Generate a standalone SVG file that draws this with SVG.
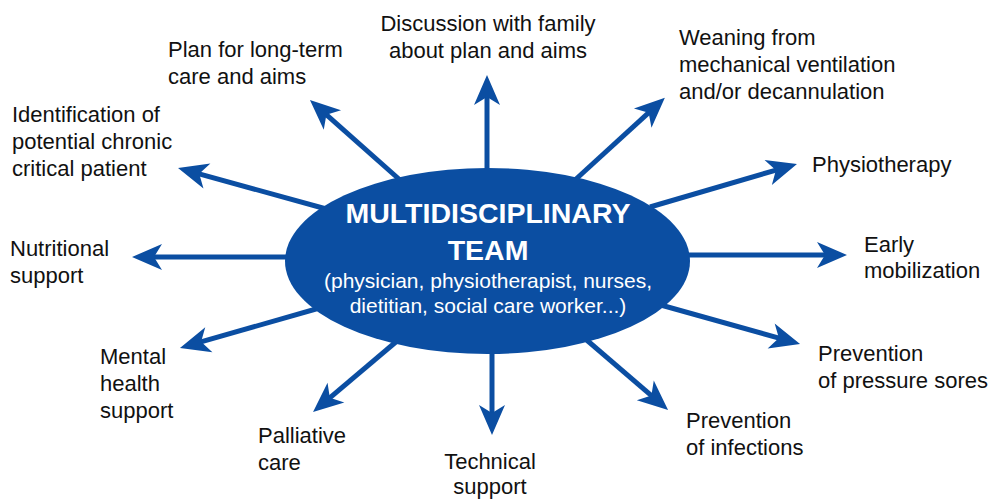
<svg xmlns="http://www.w3.org/2000/svg" width="993" height="500" viewBox="0 0 993 500">
<style>
.lbl{font-family:"Liberation Sans",Arial,sans-serif;font-size:22px;fill:#111;}
.c{text-anchor:middle;}
.con line{stroke:#0b4ea2;stroke-width:5;fill:none;marker-end:url(#ah);}
.title{font-family:"Liberation Sans",Arial,sans-serif;font-weight:bold;font-size:28.5px;fill:#fff;text-anchor:middle;}
.sub{font-family:"Liberation Sans",Arial,sans-serif;font-size:21px;fill:#fff;text-anchor:middle;}
</style>
<defs>
<marker id="ah" markerUnits="userSpaceOnUse" markerWidth="34" markerHeight="30" viewBox="0 0 32 30" refX="10" refY="15" orient="auto">
<path d="M0,2 L30,15 L0,28 L8,15 Z" fill="#0b4ea2"/>
</marker>
</defs>
<rect width="993" height="500" fill="#fff"/>
<g id="connectors" class="con">
<line x1="487" y1="190" x2="487" y2="95"/>
<line x1="400" y1="180" x2="324.9" y2="113.3"/>
<line x1="575" y1="180" x2="650.1" y2="111.3"/>
<line x1="330" y1="210" x2="197.3" y2="173.3"/>
<line x1="300" y1="257" x2="152" y2="257"/>
<line x1="650" y1="207" x2="777.8" y2="169.6"/>
<line x1="670" y1="255" x2="827" y2="255"/>
<line x1="650" y1="302" x2="780.8" y2="338.6"/>
<line x1="575" y1="330" x2="652.9" y2="396.9"/>
<line x1="492" y1="340" x2="492" y2="415"/>
<line x1="410" y1="330" x2="328.3" y2="399.1"/>
<line x1="330" y1="305" x2="199.2" y2="342.4"/>
</g>
<g id="center">
<ellipse cx="487.5" cy="261" rx="202.5" ry="93" fill="#0b4ea2"/>
<text class="title" x="488" y="223">MULTIDISCIPLINARY</text>
<text class="title" x="488" y="260">TEAM</text>
<text class="sub" x="488" y="288">(physician, physiotherapist, nurses,</text>
<text class="sub" x="488" y="313">dietitian, social care worker...)</text>
</g>
<g id="n-discussion"><text class="lbl c" x="488" y="31">Discussion with family</text><text class="lbl c" x="488" y="58">about plan and aims</text></g>
<g id="n-plan"><text class="lbl" x="168" y="57">Plan for long-term</text><text class="lbl" x="168" y="84">care and aims</text></g>
<g id="n-weaning"><text class="lbl" x="679" y="45">Weaning from</text><text class="lbl" x="679" y="72">mechanical ventilation</text><text class="lbl" x="679" y="99">and/or decannulation</text></g>
<g id="n-identification"><text class="lbl" x="12" y="122">Identification of</text><text class="lbl" x="12" y="149">potential chronic</text><text class="lbl" x="12" y="176">critical patient</text></g>
<g id="n-nutritional"><text class="lbl" x="10" y="256">Nutritional</text><text class="lbl" x="10" y="283">support</text></g>
<g id="n-physio"><text class="lbl" x="812" y="172">Physiotherapy</text></g>
<g id="n-early"><text class="lbl" x="864" y="252">Early</text><text class="lbl" x="864" y="278">mobilization</text></g>
<g id="n-pressure"><text class="lbl" x="818" y="361">Prevention</text><text class="lbl" x="818" y="388">of pressure sores</text></g>
<g id="n-infections"><text class="lbl" x="686" y="428">Prevention</text><text class="lbl" x="686" y="455">of infections</text></g>
<g id="n-technical"><text class="lbl c" x="490" y="469">Technical</text><text class="lbl c" x="490" y="494">support</text></g>
<g id="n-palliative"><text class="lbl" x="258" y="443">Palliative</text><text class="lbl" x="258" y="470">care</text></g>
<g id="n-mental"><text class="lbl" x="100" y="364">Mental</text><text class="lbl" x="100" y="391">health</text><text class="lbl" x="100" y="418">support</text></g>
</svg>
